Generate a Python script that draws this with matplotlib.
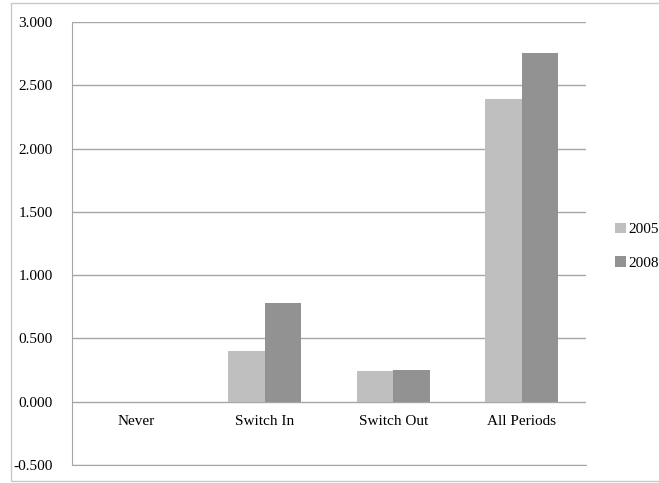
import matplotlib
matplotlib.use("Agg")
import matplotlib.pyplot as plt
from matplotlib.patches import Rectangle
import numpy as np

categories = ["Never", "Switch In", "Switch Out", "All Periods"]
series_names = ["2005", "2008"]
values_2005 = [0.0, 0.403, 0.245, 2.393]
values_2008 = [0.0, 0.782, 0.253, 2.757]
y_ticks = [-0.5, 0.0, 0.5, 1.0, 1.5, 2.0, 2.5, 3.0]

plt.rcParams["font.family"] = ["Liberation Serif", "DejaVu Serif"]
plt.rcParams["font.size"] = 11

fig = plt.figure(figsize=(6.59, 4.83), dpi=100)
fig.patch.set_facecolor("white")

# chart frame
fig.patches.append(Rectangle((11 / 659, 2 / 483), 1.0, 478 / 483,
                             transform=fig.transFigure, fill=False,
                             edgecolor="#c8c8c8", linewidth=1.0))

ax = fig.add_axes([72 / 659, 18 / 483, 514 / 659, 443 / 483])

x = np.arange(len(categories))
w = 1 / 3.5
grid_c = "#a6a6a6"
ax.bar(x - w / 2, values_2005, width=w, color="#bfbfbf", label=series_names[0], zorder=3)
ax.bar(x + w / 2, values_2008, width=w, color="#929292", label=series_names[1], zorder=3)

ax.set_xlim(-0.5, len(categories) - 0.5)
ax.set_ylim(-0.5, 3.0)
ax.set_yticks(y_ticks)
ax.set_yticklabels([f"{t:.3f}" for t in y_ticks])
ax.set_xticks([])
ax.tick_params(axis="y", length=0, pad=14)
for t in y_ticks:
    ax.axhline(t, color=grid_c, linewidth=1.0, zorder=1)

for s in ["top", "right"]:
    ax.spines[s].set_visible(False)
ax.spines["left"].set_color(grid_c)
ax.spines["bottom"].set_color(grid_c)

for i, c in enumerate(categories):
    ax.text(i, -0.158, c, ha="center", va="center", fontsize=11)

ax.legend(loc="center left", bbox_to_anchor=(1.03, 0.494), frameon=False,
          handlelength=0.7, handleheight=0.7, handletextpad=0.15,
          labelspacing=1.3, fontsize=11)

fig.savefig("out.png", dpi=100)
